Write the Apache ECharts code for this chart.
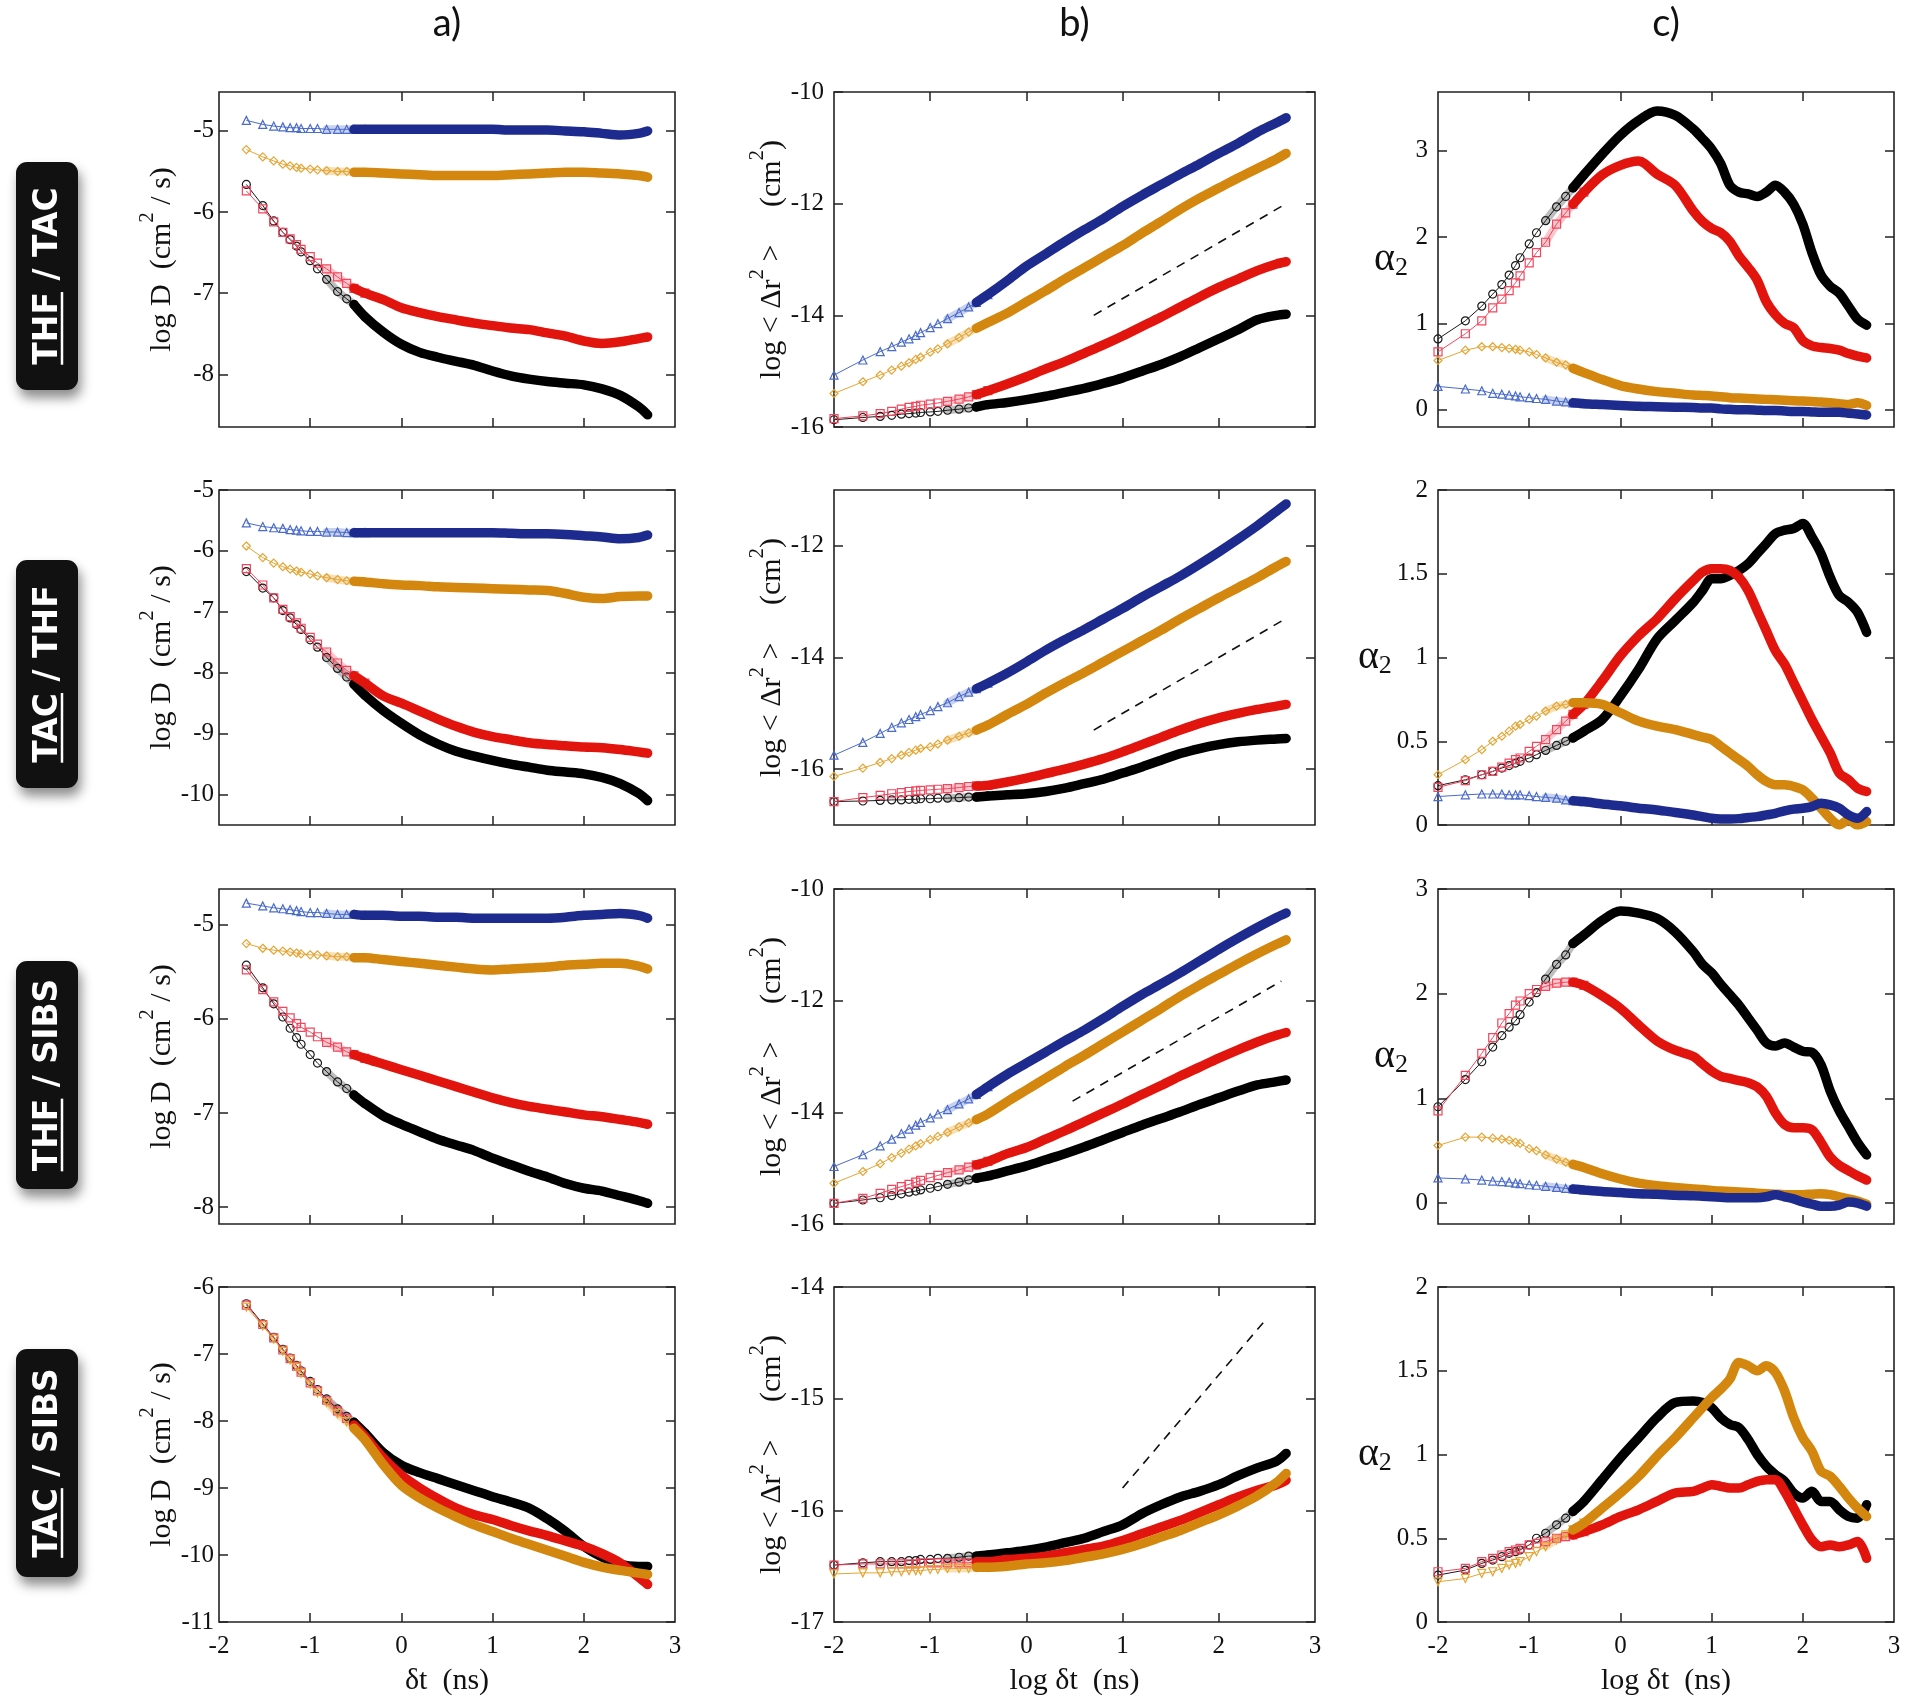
<!DOCTYPE html>
<html>
<head>
<meta charset="UTF-8">
<title>diffusion panels</title>
<script src="https://cdn.jsdelivr.net/npm/echarts@6/dist/echarts.min.js"></script>
<style>
  html, body { margin: 0; padding: 0; background: #fff; }
  #main { width: 1932px; height: 1698px; }
</style>
</head>
<body>
<div id="main"></div>
<script>
// log(dt) grids (col a starts at 0.02 ns, b and c at 0.01 ns)
var xA = [-1.70,-1.52,-1.40,-1.30,-1.22,-1.15,-1.10,-1.00,-0.92,-0.82,-0.70,-0.60,-0.52,-0.40,-0.20,0,0.2,0.4,0.6,0.8,1.0,1.2,1.4,1.6,1.8,2.0,2.2,2.4,2.6,2.7];
var xB = [-2.0,-1.70,-1.52,-1.40,-1.30,-1.22,-1.15,-1.10,-1.00,-0.92,-0.82,-0.70,-0.60,-0.52,-0.40,-0.20,0,0.2,0.4,0.6,0.8,1.0,1.2,1.4,1.6,1.8,2.0,2.2,2.4,2.6,2.7];
var xC = [-2.0,-1.70,-1.52,-1.40,-1.30,-1.22,-1.15,-1.10,-1.00,-0.92,-0.82,-0.70,-0.60,-0.52,-0.40,-0.20,0,0.2,0.4,0.6,0.8,0.9,1.0,1.1,1.2,1.3,1.4,1.5,1.6,1.7,1.8,1.9,2.0,2.1,2.2,2.3,2.4,2.5,2.6,2.7];

// row 1 : THF / TAC
var a1k = [-5.66,-5.92,-6.11,-6.25,-6.34,-6.42,-6.49,-6.60,-6.70,-6.83,-6.98,-7.07,-7.14,-7.29,-7.48,-7.63,-7.73,-7.79,-7.84,-7.89,-7.96,-8.02,-8.06,-8.09,-8.11,-8.13,-8.18,-8.26,-8.40,-8.50];
var a1r = [-5.74,-5.96,-6.12,-6.25,-6.33,-6.40,-6.46,-6.55,-6.63,-6.70,-6.80,-6.88,-6.94,-7.00,-7.08,-7.18,-7.24,-7.29,-7.33,-7.37,-7.40,-7.43,-7.45,-7.49,-7.53,-7.59,-7.62,-7.60,-7.56,-7.54];
var a1o = [-5.23,-5.32,-5.37,-5.41,-5.43,-5.45,-5.46,-5.47,-5.48,-5.49,-5.50,-5.50,-5.51,-5.51,-5.52,-5.53,-5.54,-5.55,-5.55,-5.55,-5.55,-5.54,-5.53,-5.52,-5.51,-5.51,-5.52,-5.53,-5.55,-5.57];
var a1b = [-4.87,-4.92,-4.94,-4.95,-4.96,-4.96,-4.97,-4.97,-4.97,-4.98,-4.98,-4.98,-4.98,-4.98,-4.98,-4.98,-4.98,-4.98,-4.98,-4.98,-4.98,-4.99,-4.99,-4.99,-5.00,-5.01,-5.03,-5.05,-5.03,-5.00];
var b1k = [-15.87,-15.83,-15.81,-15.79,-15.77,-15.76,-15.75,-15.74,-15.73,-15.72,-15.70,-15.68,-15.66,-15.64,-15.60,-15.56,-15.51,-15.45,-15.38,-15.31,-15.22,-15.12,-15.00,-14.88,-14.74,-14.58,-14.42,-14.26,-14.08,-14.00,-13.98];
var b1r = [-15.85,-15.80,-15.76,-15.72,-15.68,-15.65,-15.63,-15.61,-15.59,-15.57,-15.54,-15.50,-15.46,-15.42,-15.35,-15.23,-15.10,-14.96,-14.83,-14.68,-14.53,-14.37,-14.20,-14.03,-13.85,-13.67,-13.50,-13.35,-13.20,-13.08,-13.04];
var b1o = [-15.40,-15.19,-15.07,-14.98,-14.91,-14.85,-14.79,-14.75,-14.66,-14.60,-14.51,-14.40,-14.30,-14.23,-14.13,-13.96,-13.76,-13.56,-13.35,-13.15,-12.95,-12.75,-12.53,-12.32,-12.10,-11.90,-11.72,-11.54,-11.37,-11.20,-11.10];
var b1b = [-15.07,-14.80,-14.65,-14.56,-14.48,-14.42,-14.36,-14.31,-14.22,-14.15,-14.06,-13.95,-13.85,-13.77,-13.63,-13.38,-13.12,-12.90,-12.68,-12.47,-12.27,-12.05,-11.85,-11.66,-11.47,-11.29,-11.10,-10.92,-10.72,-10.55,-10.46];
var c1k = [0.82,1.03,1.20,1.34,1.45,1.56,1.67,1.76,1.92,2.05,2.19,2.35,2.47,2.57,2.72,2.96,3.18,3.35,3.46,3.41,3.25,3.14,3.02,2.85,2.60,2.52,2.50,2.47,2.52,2.60,2.52,2.38,2.15,1.82,1.56,1.43,1.35,1.20,1.05,0.98];
var c1r = [0.67,0.88,1.03,1.18,1.28,1.38,1.47,1.55,1.70,1.82,1.94,2.15,2.28,2.38,2.52,2.72,2.83,2.88,2.73,2.60,2.30,2.18,2.10,2.05,1.95,1.78,1.65,1.50,1.25,1.10,1.00,0.95,0.80,0.74,0.72,0.71,0.69,0.65,0.62,0.60];
var c1o = [0.57,0.69,0.73,0.73,0.72,0.71,0.70,0.69,0.67,0.64,0.60,0.55,0.52,0.48,0.43,0.35,0.28,0.24,0.21,0.19,0.17,0.165,0.16,0.15,0.14,0.135,0.13,0.125,0.12,0.115,0.11,0.105,0.10,0.095,0.09,0.08,0.07,0.06,0.08,0.05];
var c1b = [0.27,0.24,0.22,0.19,0.18,0.17,0.16,0.15,0.14,0.13,0.12,0.10,0.09,0.08,0.07,0.06,0.05,0.04,0.035,0.03,0.025,0.02,0.02,0.01,0.005,0,0,-0.005,-0.01,-0.01,-0.015,-0.02,-0.02,-0.025,-0.03,-0.03,-0.03,-0.04,-0.05,-0.06];

// row 2 : TAC / THF
var a2k = [-6.34,-6.61,-6.77,-6.98,-7.10,-7.21,-7.29,-7.46,-7.58,-7.75,-7.93,-8.07,-8.19,-8.37,-8.62,-8.83,-9.02,-9.17,-9.29,-9.37,-9.44,-9.50,-9.55,-9.60,-9.63,-9.66,-9.72,-9.82,-9.98,-10.10];
var a2r = [-6.29,-6.56,-6.77,-6.96,-7.08,-7.18,-7.27,-7.42,-7.53,-7.66,-7.84,-7.96,-8.05,-8.17,-8.38,-8.50,-8.63,-8.76,-8.88,-8.98,-9.05,-9.10,-9.15,-9.18,-9.20,-9.22,-9.23,-9.26,-9.30,-9.32];
var a2o = [-5.92,-6.11,-6.20,-6.26,-6.30,-6.33,-6.35,-6.38,-6.41,-6.44,-6.47,-6.49,-6.50,-6.51,-6.54,-6.56,-6.57,-6.59,-6.60,-6.61,-6.62,-6.63,-6.64,-6.65,-6.70,-6.76,-6.78,-6.75,-6.74,-6.74];
var a2b = [-5.54,-5.60,-5.62,-5.63,-5.65,-5.66,-5.67,-5.68,-5.68,-5.69,-5.69,-5.70,-5.70,-5.70,-5.70,-5.70,-5.70,-5.70,-5.70,-5.70,-5.70,-5.71,-5.72,-5.72,-5.73,-5.75,-5.77,-5.80,-5.78,-5.74];
var b2k = [-16.58,-16.57,-16.56,-16.55,-16.55,-16.54,-16.54,-16.53,-16.53,-16.52,-16.52,-16.51,-16.50,-16.50,-16.48,-16.46,-16.44,-16.40,-16.34,-16.26,-16.18,-16.07,-15.96,-15.84,-15.72,-15.63,-15.56,-15.51,-15.48,-15.46,-15.45];
var b2r = [-16.58,-16.51,-16.47,-16.44,-16.42,-16.40,-16.39,-16.38,-16.37,-16.36,-16.35,-16.33,-16.31,-16.30,-16.29,-16.23,-16.16,-16.08,-16.00,-15.91,-15.81,-15.69,-15.56,-15.43,-15.30,-15.18,-15.08,-15.00,-14.93,-14.87,-14.84];
var b2o = [-16.13,-15.98,-15.88,-15.81,-15.75,-15.70,-15.66,-15.63,-15.60,-15.55,-15.48,-15.41,-15.35,-15.30,-15.21,-15.02,-14.84,-14.64,-14.45,-14.27,-14.08,-13.89,-13.70,-13.51,-13.31,-13.12,-12.93,-12.75,-12.57,-12.37,-12.28];
var b2b = [-15.75,-15.52,-15.36,-15.25,-15.17,-15.11,-15.06,-15.02,-14.95,-14.88,-14.81,-14.70,-14.62,-14.56,-14.46,-14.28,-14.08,-13.87,-13.68,-13.50,-13.31,-13.12,-12.92,-12.73,-12.54,-12.33,-12.11,-11.88,-11.64,-11.38,-11.25];
var c2k = [0.235,0.27,0.30,0.32,0.34,0.355,0.37,0.38,0.40,0.42,0.445,0.475,0.50,0.52,0.56,0.63,0.77,0.93,1.11,1.22,1.33,1.40,1.47,1.47,1.49,1.52,1.56,1.62,1.68,1.74,1.76,1.77,1.80,1.72,1.62,1.48,1.37,1.33,1.27,1.15];
var c2r = [0.225,0.265,0.30,0.32,0.345,0.37,0.39,0.40,0.44,0.47,0.51,0.57,0.62,0.66,0.72,0.86,1.01,1.13,1.23,1.35,1.46,1.51,1.53,1.53,1.52,1.48,1.40,1.28,1.16,1.04,0.96,0.85,0.74,0.63,0.53,0.43,0.31,0.27,0.22,0.20];
var c2o = [0.30,0.39,0.45,0.50,0.53,0.56,0.59,0.60,0.63,0.65,0.68,0.71,0.72,0.73,0.73,0.72,0.67,0.62,0.59,0.57,0.54,0.525,0.51,0.47,0.43,0.39,0.35,0.30,0.26,0.24,0.24,0.23,0.21,0.16,0.10,0.04,0.0,0.03,0.0,0.02];
var c2b = [0.17,0.18,0.185,0.185,0.185,0.18,0.18,0.18,0.175,0.17,0.165,0.16,0.15,0.145,0.14,0.125,0.115,0.10,0.09,0.075,0.06,0.05,0.04,0.036,0.036,0.038,0.045,0.05,0.06,0.07,0.085,0.095,0.10,0.11,0.13,0.12,0.10,0.06,0.04,0.08];

// row 3 : THF / SIBS
var a3k = [-5.43,-5.67,-5.84,-5.98,-6.10,-6.20,-6.27,-6.38,-6.47,-6.56,-6.67,-6.74,-6.81,-6.90,-7.03,-7.12,-7.20,-7.28,-7.34,-7.40,-7.48,-7.55,-7.62,-7.68,-7.75,-7.80,-7.83,-7.88,-7.93,-7.96];
var a3r = [-5.48,-5.69,-5.82,-5.92,-5.99,-6.05,-6.09,-6.14,-6.19,-6.25,-6.30,-6.35,-6.38,-6.42,-6.48,-6.54,-6.60,-6.66,-6.72,-6.78,-6.84,-6.89,-6.93,-6.96,-6.99,-7.02,-7.04,-7.07,-7.10,-7.12];
var a3o = [-5.20,-5.25,-5.27,-5.28,-5.29,-5.30,-5.31,-5.32,-5.32,-5.33,-5.34,-5.34,-5.35,-5.35,-5.37,-5.39,-5.41,-5.43,-5.45,-5.47,-5.48,-5.47,-5.46,-5.45,-5.43,-5.42,-5.41,-5.41,-5.44,-5.47];
var a3b = [-4.77,-4.80,-4.82,-4.83,-4.84,-4.85,-4.86,-4.87,-4.87,-4.88,-4.89,-4.89,-4.89,-4.90,-4.90,-4.91,-4.91,-4.92,-4.92,-4.93,-4.93,-4.93,-4.93,-4.93,-4.92,-4.90,-4.89,-4.88,-4.90,-4.93];
var b3k = [-15.63,-15.57,-15.53,-15.49,-15.46,-15.43,-15.41,-15.39,-15.36,-15.33,-15.29,-15.25,-15.21,-15.18,-15.14,-15.05,-14.96,-14.85,-14.74,-14.62,-14.49,-14.36,-14.23,-14.11,-13.99,-13.86,-13.74,-13.62,-13.51,-13.45,-13.42];
var b3r = [-15.63,-15.54,-15.45,-15.38,-15.33,-15.29,-15.25,-15.22,-15.17,-15.13,-15.08,-15.03,-14.98,-14.94,-14.88,-14.74,-14.63,-14.48,-14.33,-14.17,-14.01,-13.85,-13.68,-13.52,-13.35,-13.19,-13.03,-12.88,-12.74,-12.62,-12.57];
var b3o = [-15.27,-15.06,-14.92,-14.81,-14.73,-14.66,-14.60,-14.56,-14.49,-14.43,-14.36,-14.26,-14.19,-14.13,-14.03,-13.81,-13.60,-13.39,-13.18,-12.98,-12.77,-12.56,-12.35,-12.14,-11.92,-11.72,-11.53,-11.34,-11.16,-10.99,-10.91];
var b3b = [-14.97,-14.76,-14.60,-14.48,-14.38,-14.30,-14.23,-14.18,-14.10,-14.03,-13.95,-13.85,-13.76,-13.68,-13.54,-13.32,-13.12,-12.92,-12.72,-12.53,-12.32,-12.10,-11.89,-11.70,-11.50,-11.29,-11.08,-10.88,-10.69,-10.51,-10.43];
var c3k = [0.92,1.18,1.35,1.49,1.60,1.68,1.74,1.80,1.92,2.01,2.14,2.28,2.37,2.48,2.56,2.70,2.79,2.77,2.72,2.59,2.40,2.28,2.20,2.09,1.99,1.89,1.77,1.65,1.53,1.50,1.53,1.49,1.45,1.44,1.32,1.07,0.88,0.73,0.58,0.46];
var c3r = [0.88,1.22,1.43,1.58,1.72,1.81,1.89,1.93,2.00,2.04,2.07,2.10,2.11,2.11,2.08,1.98,1.86,1.70,1.55,1.46,1.40,1.33,1.26,1.21,1.19,1.17,1.15,1.11,1.02,0.86,0.75,0.72,0.72,0.70,0.58,0.44,0.36,0.31,0.26,0.22];
var c3o = [0.55,0.63,0.63,0.62,0.61,0.60,0.58,0.57,0.52,0.50,0.46,0.42,0.39,0.37,0.34,0.28,0.23,0.19,0.165,0.15,0.135,0.13,0.12,0.115,0.11,0.105,0.10,0.095,0.09,0.085,0.08,0.08,0.08,0.085,0.09,0.08,0.06,0.04,0.02,-0.01];
var c3b = [0.24,0.23,0.22,0.21,0.205,0.20,0.19,0.185,0.175,0.17,0.16,0.15,0.14,0.135,0.125,0.11,0.10,0.09,0.085,0.075,0.07,0.065,0.06,0.055,0.05,0.05,0.05,0.05,0.06,0.08,0.06,0.04,0.01,-0.01,-0.03,-0.03,-0.02,0.01,0.0,-0.03];

// row 4 : TAC / SIBS (no blue curve)
var a4k = [-6.25,-6.55,-6.75,-6.93,-7.06,-7.17,-7.25,-7.41,-7.53,-7.67,-7.82,-7.93,-8.02,-8.18,-8.47,-8.66,-8.77,-8.86,-8.95,-9.04,-9.13,-9.21,-9.30,-9.46,-9.65,-9.87,-10.03,-10.14,-10.17,-10.17];
var a4r = [-6.27,-6.56,-6.76,-6.94,-7.07,-7.18,-7.27,-7.43,-7.55,-7.69,-7.85,-7.96,-8.06,-8.23,-8.55,-8.81,-9.00,-9.16,-9.30,-9.40,-9.47,-9.56,-9.64,-9.71,-9.79,-9.87,-9.98,-10.12,-10.33,-10.44];
var a4o = [-6.30,-6.58,-6.78,-6.96,-7.09,-7.20,-7.29,-7.45,-7.58,-7.72,-7.89,-8.01,-8.11,-8.28,-8.65,-8.96,-9.15,-9.30,-9.43,-9.55,-9.65,-9.75,-9.84,-9.93,-10.02,-10.11,-10.18,-10.23,-10.27,-10.29];
var b4k = [-16.49,-16.47,-16.46,-16.46,-16.46,-16.45,-16.45,-16.44,-16.44,-16.43,-16.43,-16.42,-16.41,-16.41,-16.40,-16.38,-16.36,-16.33,-16.29,-16.25,-16.19,-16.13,-16.03,-15.95,-15.88,-15.83,-15.77,-15.69,-15.62,-15.56,-15.49];
var b4r = [-16.49,-16.48,-16.48,-16.48,-16.48,-16.48,-16.48,-16.47,-16.47,-16.47,-16.47,-16.47,-16.47,-16.46,-16.46,-16.44,-16.43,-16.41,-16.38,-16.35,-16.32,-16.27,-16.21,-16.15,-16.09,-16.02,-15.95,-15.88,-15.82,-15.77,-15.73];
var b4o = [-16.57,-16.56,-16.56,-16.55,-16.55,-16.54,-16.54,-16.54,-16.53,-16.53,-16.52,-16.52,-16.52,-16.51,-16.51,-16.50,-16.48,-16.47,-16.45,-16.42,-16.39,-16.35,-16.30,-16.24,-16.18,-16.11,-16.04,-15.96,-15.87,-15.75,-15.67];
var c4k = [0.28,0.31,0.35,0.37,0.39,0.41,0.42,0.43,0.46,0.50,0.53,0.58,0.62,0.66,0.72,0.85,0.98,1.10,1.22,1.31,1.32,1.31,1.28,1.22,1.18,1.16,1.09,1.00,0.93,0.88,0.84,0.77,0.74,0.78,0.72,0.72,0.67,0.63,0.62,0.70];
var c4r = [0.30,0.32,0.36,0.38,0.40,0.42,0.43,0.44,0.46,0.47,0.48,0.50,0.51,0.52,0.54,0.58,0.63,0.67,0.72,0.77,0.78,0.80,0.82,0.81,0.80,0.80,0.82,0.84,0.85,0.85,0.78,0.68,0.58,0.49,0.45,0.46,0.45,0.46,0.48,0.38];
var c4o = [0.24,0.26,0.29,0.30,0.32,0.34,0.35,0.36,0.39,0.42,0.45,0.49,0.52,0.55,0.59,0.68,0.77,0.87,0.99,1.10,1.22,1.28,1.34,1.39,1.45,1.55,1.53,1.50,1.53,1.49,1.38,1.22,1.10,1.02,0.90,0.87,0.81,0.74,0.68,0.63];

// slope-1 guide lines in column b
var dash1 = [[0.7,-14.0],[2.7,-12.0]];
var dash2 = [[0.7,-15.3],[2.7,-13.3]];
var dash3 = [[0.48,-13.8],[2.65,-11.65]];
var dash4 = [[1.0,-15.8],[2.5,-14.28]];

var colTitles = ['a)', 'b)', 'c)'];
var rowLabels = ['THF / TAC', 'TAC / THF', 'THF / SIBS', 'TAC / SIBS'];
var xTickVals = [-1, 0, 1, 2];
var xLabelVals = [-2, -1, 0, 1, 2, 3];

// layout
var colLeft = [219, 834, 1438];
var colWidth = [456, 481, 456];
var rowTop = [92, 490, 889, 1287];
var plotH = 335;
var serif = 'Liberation Serif';

var look = {
  k: {thick: '#000000', mark: '#1a1a1a', band: 'rgba(40,40,40,0.30)', symbol: 'circle'},
  r: {thick: '#e2140e', mark: '#f2465c', band: 'rgba(240,70,90,0.30)', symbol: 'rect'},
  o: {thick: '#d4870f', mark: '#e4a534', band: 'rgba(228,165,52,0.35)', symbol: 'diamond'},
  b: {thick: '#1e2b8e', mark: '#4a6bca', band: 'rgba(74,107,202,0.30)', symbol: 'triangle'}
};

var panels = [
  {row:0, col:0, x:xA, y:[-8.65,-4.52], ticks:[-8,-7,-6,-5], curves:[['k',a1k],['r',a1r],['o',a1o],['b',a1b]]},
  {row:0, col:1, x:xB, y:[-16,-10], ticks:[-16,-14,-12,-10], curves:[['k',b1k],['r',b1r],['o',b1o],['b',b1b]], dash:dash1},
  {row:0, col:2, x:xC, y:[-0.2,3.68], ticks:[0,1,2,3], curves:[['k',c1k],['r',c1r],['o',c1o],['b',c1b]]},
  {row:1, col:0, x:xA, y:[-10.5,-5], ticks:[-10,-9,-8,-7,-6,-5], curves:[['k',a2k],['r',a2r],['o',a2o],['b',a2b]]},
  {row:1, col:1, x:xB, y:[-17,-11], ticks:[-16,-14,-12], curves:[['k',b2k],['r',b2r],['o',b2o],['b',b2b]], dash:dash2},
  {row:1, col:2, x:xC, y:[0,2], ticks:[0,0.5,1,1.5,2], curves:[['k',c2k],['r',c2r],['o',c2o],['b',c2b]]},
  {row:2, col:0, x:xA, y:[-8.18,-4.62], ticks:[-8,-7,-6,-5], curves:[['k',a3k],['r',a3r],['o',a3o],['b',a3b]]},
  {row:2, col:1, x:xB, y:[-16,-10], ticks:[-16,-14,-12,-10], curves:[['k',b3k],['r',b3r],['o',b3o],['b',b3b]], dash:dash3},
  {row:2, col:2, x:xC, y:[-0.2,3], ticks:[0,1,2,3], curves:[['k',c3k],['r',c3r],['o',c3o],['b',c3b]]},
  {row:3, col:0, x:xA, y:[-11,-6], ticks:[-11,-10,-9,-8,-7,-6], curves:[['k',a4k],['r',a4r],['o',a4o]], flipO:true},
  {row:3, col:1, x:xB, y:[-17,-14], ticks:[-17,-16,-15,-14], curves:[['k',b4k],['r',b4r],['o',b4o]], dash:dash4, flipO:true},
  {row:3, col:2, x:xC, y:[0,2], ticks:[0,0.5,1,1.5,2], curves:[['k',c4k],['r',c4r],['o',c4o]], flipO:true}
];

// axis titles with raised / lowered 2s (rich text)
var yNames = ['{n|log D  (cm}{s|2}{n| / s)}', '{n|log < \u0394r}{s|2}{n| >     (cm}{s|2}{n|)}', '{a|\u03B1}{d|2}'];
var yRich = {
  n: {fontFamily: serif, fontSize: 30, color: '#111', lineHeight: 40, verticalAlign: 'bottom'},
  s: {fontFamily: serif, fontSize: 21, color: '#111', lineHeight: 40, verticalAlign: 'top'},
  a: {fontFamily: serif, fontSize: 40, color: '#111', lineHeight: 44, verticalAlign: 'middle'},
  d: {fontFamily: serif, fontSize: 26, color: '#111', lineHeight: 44, verticalAlign: 'bottom'}
};
var xNames = ['\u03B4t  (ns)', 'log \u03B4t  (ns)', 'log \u03B4t  (ns)'];

var grids = [], xAxes = [], yAxes = [], series = [];

function tickCfg(vals) {
  return {show: true, inside: true, length: 9, customValues: vals, lineStyle: {color: '#222', width: 1.5}};
}
var noLine = {show: false, onZero: false};

panels.forEach(function (p, i) {
  var bottom = p.row === 3;
  grids.push({left: colLeft[p.col], top: rowTop[p.row], width: colWidth[p.col], height: plotH,
    show: true, borderColor: '#222', borderWidth: 1.6, backgroundColor: 'rgba(0,0,0,0)'});

  xAxes.push({type: 'value', gridIndex: i, min: -2, max: 3, position: 'bottom',
    axisLine: noLine, splitLine: {show: false}, axisTick: tickCfg(xTickVals),
    axisLabel: {show: bottom, customValues: xLabelVals, margin: 12, fontFamily: serif, fontSize: 25, color: '#111'},
    name: bottom ? xNames[p.col] : '', nameLocation: 'middle', nameGap: 44,
    nameTextStyle: {fontFamily: serif, fontSize: 30, color: '#111'}});
  xAxes.push({type: 'value', gridIndex: i, min: -2, max: 3, position: 'top',
    axisLine: noLine, splitLine: {show: false}, axisTick: tickCfg(xTickVals), axisLabel: {show: false}});

  var isC = p.col === 2;
  yAxes.push({type: 'value', gridIndex: i, min: p.y[0], max: p.y[1], position: 'left',
    axisLine: noLine, splitLine: {show: false}, axisTick: tickCfg(p.ticks),
    axisLabel: {customValues: p.ticks, margin: p.col === 0 ? 5 : 10, fontFamily: serif, fontSize: 25, color: '#111'},
    name: yNames[p.col], nameLocation: 'middle', nameRotate: isC ? 0 : 90,
    nameGap: [42, 46, 30][p.col],
    nameTextStyle: {rich: yRich, align: isC ? 'right' : undefined}});
  yAxes.push({type: 'value', gridIndex: i, min: p.y[0], max: p.y[1], position: 'right',
    axisLine: noLine, splitLine: {show: false}, axisTick: tickCfg(p.ticks), axisLabel: {show: false}});

  // crowded-marker band, open markers, then thick bands on top (black lowest)
  p.curves.forEach(function (c) {
    var st = look[c[0]];
    var pts = p.x.map(function (x, j) { return [x, c[1][j]]; });
    var crowd = pts.filter(function (q) { return q[0] >= -0.82 && q[0] <= -0.4; });
    series.push({type: 'line', xAxisIndex: 2 * i, yAxisIndex: 2 * i, data: crowd,
      symbol: 'none', silent: true, z: 1,
      lineStyle: {color: st.band, width: 8, cap: 'round', join: 'round'}});
  });
  p.curves.forEach(function (c) {
    var st = look[c[0]];
    var pts = p.x.map(function (x, j) { return [x, c[1][j]]; });
    var early = pts.filter(function (q) { return q[0] <= -0.4; });
    var flip = p.flipO && c[0] === 'o';
    series.push({type: 'line', xAxisIndex: 2 * i, yAxisIndex: 2 * i, data: early,
      symbol: flip ? 'triangle' : st.symbol, symbolRotate: flip ? 180 : 0,
      symbolSize: 8, showSymbol: true, showAllSymbol: true, silent: true, z: 2,
      itemStyle: {color: 'rgba(255,255,255,0)', borderColor: st.mark, borderWidth: 1.2},
      lineStyle: {color: st.mark, width: 1}});
  });
  p.curves.forEach(function (c) {
    var st = look[c[0]];
    var pts = p.x.map(function (x, j) { return [x, c[1][j]]; });
    var late = pts.filter(function (q) { return q[0] >= -0.52; });
    series.push({type: 'line', xAxisIndex: 2 * i, yAxisIndex: 2 * i, data: late,
      symbol: 'none', smooth: 0.3, silent: true, z: 3,
      lineStyle: {color: st.thick, width: 9.5, cap: 'round', join: 'round'}});
  });

  if (p.dash) {
    series.push({type: 'line', xAxisIndex: 2 * i, yAxisIndex: 2 * i, data: p.dash,
      symbol: 'none', silent: true, z: 4,
      lineStyle: {color: '#111', width: 1.6, type: [9, 7]}});
  }
});

// column titles and the rotated row badges
var graphics = [];
colTitles.forEach(function (t, k) {
  graphics.push({type: 'text', x: colLeft[k] + colWidth[k] / 2, y: 24,
    style: {text: t, font: '38px Lato', fill: '#111', align: 'center', verticalAlign: 'middle',
      textAlign: 'center', textVerticalAlign: 'middle'}});
});

var badgeFont = 'bold 33px "DejaVu Sans"';
var ctx = document.createElement('canvas').getContext('2d');
ctx.font = badgeFont;
var badgeY = [276, 674, 1075, 1463];
rowLabels.forEach(function (lab, k) {
  var wAll = ctx.measureText(lab).width;
  var wFirst = ctx.measureText(lab.split(' ')[0]).width;
  var u0 = -wAll / 2;
  graphics.push({type: 'group', x: 47, y: badgeY[k], rotation: Math.PI / 2, children: [
    {type: 'rect', shape: {x: -114, y: -31, width: 228, height: 62, r: 11},
      style: {fill: '#111', shadowBlur: 12, shadowOffsetX: 3, shadowOffsetY: 8, shadowColor: 'rgba(0,0,0,0.45)'}},
    {type: 'text', x: 0, y: 1,
      style: {text: lab, font: badgeFont, fill: '#fff', align: 'center', verticalAlign: 'middle',
        textAlign: 'center', textVerticalAlign: 'middle'}},
    {type: 'line', shape: {x1: u0, y1: 15, x2: u0 + wFirst, y2: 15},
      style: {stroke: '#fff', lineWidth: 2.5}}
  ]});
});

var myChart = echarts.init(document.getElementById('main'));
myChart.setOption({
  animation: false,
  backgroundColor: '#ffffff',
  grid: grids,
  xAxis: xAxes,
  yAxis: yAxes,
  series: series,
  graphic: graphics
});
</script>
</body>
</html>
